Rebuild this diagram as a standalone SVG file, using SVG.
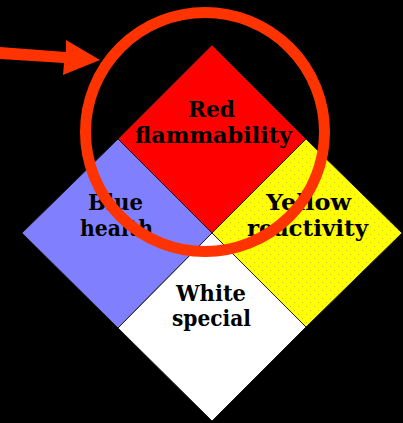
<svg xmlns="http://www.w3.org/2000/svg" width="403" height="423" viewBox="0 0 403 423">
<style>
.d{stroke:#1a1a1a;stroke-width:1;stroke-linejoin:miter}
.t{font-family:"DejaVu Serif","Liberation Serif",serif;font-weight:bold;font-size:22px;fill:#000;text-anchor:middle}
.hl{fill:none;stroke:#FF3300;stroke-width:11}
</style>
<defs>
<pattern id="dots" width="8" height="8" patternUnits="userSpaceOnUse">
<rect width="8" height="8" fill="#FFFF00"/>
<rect x="2" y="2" width="1" height="1" fill="#C9C93A"/>
<rect x="6" y="6" width="1" height="1" fill="#C9C93A"/>
</pattern>
</defs>
<rect width="403" height="423" fill="#000"/>
<g id="node-red">
<polygon class="d" points="212,45 306,139 212,233 118,139" fill="#FF0000"/>
<text class="t" x="211.5" y="117" textLength="47" lengthAdjust="spacingAndGlyphs">Red</text>
<text class="t" x="213.5" y="143" textLength="157" lengthAdjust="spacingAndGlyphs">flammability</text>
</g>
<g id="node-blue">
<polygon class="d" points="118,139 212,233 118,328 22,233" fill="#8080FF"/>
<text class="t" x="115.5" y="210" textLength="55" lengthAdjust="spacingAndGlyphs">Blue</text>
<text class="t" x="116.5" y="236" textLength="73" lengthAdjust="spacingAndGlyphs">health</text>
</g>
<g id="node-yellow">
<polygon class="d" points="306,139 402,233 306,327 212,233" fill="url(#dots)"/>
<text class="t" x="308.5" y="210" textLength="85" lengthAdjust="spacingAndGlyphs">Yellow</text>
<text class="t" x="307.5" y="236" textLength="121" lengthAdjust="spacingAndGlyphs">reactivity</text>
</g>
<g id="node-white">
<polygon class="d" points="212,233 306,327 212,421 118,328" fill="#FFFFFF"/>
<text class="t" x="211" y="301" textLength="70" lengthAdjust="spacingAndGlyphs">White</text>
<text class="t" x="211.5" y="326" textLength="79" lengthAdjust="spacingAndGlyphs">special</text>
</g>
<g id="connectors">
<polygon points="0,47 66,52 66,40 100,60 63,75 64,63 0,59" fill="#FF3300"/>
</g>
<g id="highlight">
<circle class="hl" cx="205" cy="132" r="119.5"/>
</g>
</svg>
